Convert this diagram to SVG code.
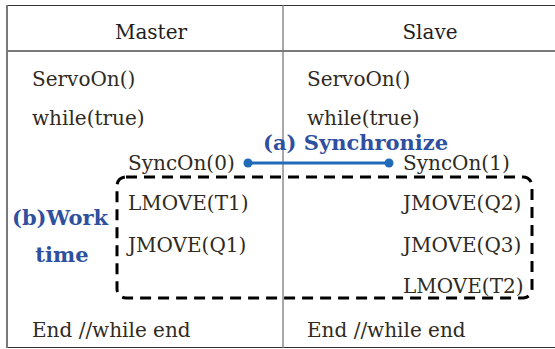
<svg xmlns="http://www.w3.org/2000/svg" width="555" height="349" viewBox="0 0 555 349">
  <defs>
    <style>
      .code { font-family: "DejaVu Serif", "Liberation Serif", serif; font-size: 20px; fill: #2f2a22; }
      .head { font-family: "DejaVu Serif", "Liberation Serif", serif; font-size: 20px; fill: #1e1e1e; text-anchor: middle; }
      .note { font-family: "DejaVu Serif", "Liberation Serif", serif; font-size: 21px; font-weight: bold; fill: #2f4f9f; }
      .rule { stroke: #7a7a7a; fill: none; }
    </style>
  </defs>
  <rect width="555" height="349" fill="#ffffff"/>

  <!-- table frame -->
  <g id="table">
    <line x1="7" y1="5.5" x2="555" y2="5.5" stroke="#333" stroke-width="1.2"/>
    <line x1="7" y1="51" x2="555" y2="51" class="rule" stroke-width="2"/>
    <line x1="7" y1="347.5" x2="555" y2="347.5" stroke="#333" stroke-width="1.2"/>
    <line x1="7" y1="5" x2="7" y2="348" class="rule" stroke-width="2"/>
    <line x1="283" y1="5" x2="283" y2="348" class="rule" stroke-width="1.3"/>
    <text class="head" x="151" y="39">Master</text>
    <text class="head" x="430" y="39">Slave</text>
  </g>

  <!-- master program -->
  <g id="master">
    <text class="code" x="32" y="86">ServoOn()</text>
    <text class="code" x="32" y="125">while(true)</text>
    <text class="code" x="128" y="170">SyncOn(0)</text>
    <text class="code" x="128" y="210">LMOVE(T1)</text>
    <text class="code" x="128" y="252">JMOVE(Q1)</text>
    <text class="code" x="32" y="337">End //while end</text>
  </g>

  <!-- slave program -->
  <g id="slave">
    <text class="code" x="307" y="86">ServoOn()</text>
    <text class="code" x="307" y="125">while(true)</text>
    <text class="code" x="403" y="170">SyncOn(1)</text>
    <text class="code" x="403" y="210">JMOVE(Q2)</text>
    <text class="code" x="403" y="252">JMOVE(Q3)</text>
    <text class="code" x="403" y="293">LMOVE(T2)</text>
    <text class="code" x="307" y="337">End //while end</text>
  </g>

  <!-- work time region -->
  <g id="worktime">
    <rect x="117" y="177" width="415" height="121" rx="9" ry="9" fill="none" stroke="#000" stroke-width="3" stroke-dasharray="11 7"/>
    <text class="note" x="12" y="225">(b)Work</text>
    <text class="note" x="62" y="262" text-anchor="middle">time</text>
  </g>

  <!-- synchronisation link -->
  <g id="connectors">
    <line x1="248" y1="163" x2="389" y2="163" stroke="#1f6bb8" stroke-width="3"/>
    <circle cx="248" cy="163" r="4.5" fill="#1f6bb8"/>
    <circle cx="389" cy="163" r="4.5" fill="#1f6bb8"/>
    <text class="note" x="263" y="150" font-size="20.5">(a) Synchronize</text>
  </g>
</svg>
